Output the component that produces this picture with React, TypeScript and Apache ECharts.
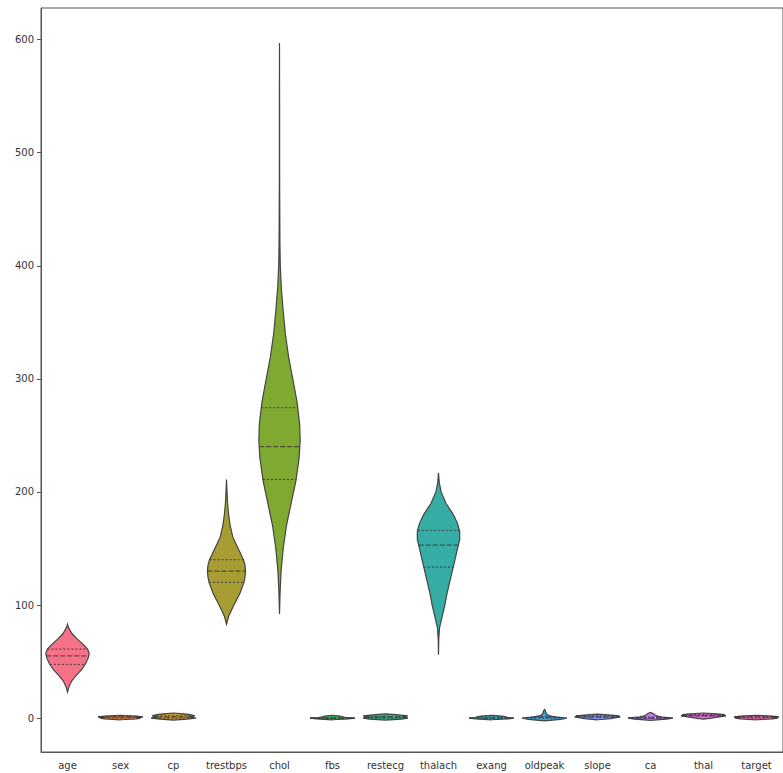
import React, { useEffect, useRef } from "react";
import * as echarts from "echarts";

const categories = ["age", "sex", "cp", "trestbps", "chol", "fbs", "restecg", "thalach", "exang", "oldpeak", "slope", "ca", "thal", "target"];
const colors = ["#f77189", "#e5803a", "#c39633", "#a89d32", "#7fa931", "#34b05a", "#34af87", "#36ada4", "#38aabd", "#3aa5da", "#8396f4", "#c37cf4", "#ee65e4", "#f66bb5"];

// violin density profiles: y values and half-widths (fraction of category band)
const profileY: number[][] = [
  [23, 28, 33, 38, 43, 48, 53, 57, 61, 65, 70, 75, 80, 83],
  [-1.5, -0.8, 0, 0.5, 1, 1.8, 2.5],
  [-1.8, -1, 0, 1, 2, 3, 3.8, 4.5],
  [83, 90, 100, 110, 120, 125, 130, 135, 140, 150, 160, 170, 180, 190, 200, 211],
  [92, 110, 130, 150, 170, 190, 210, 230, 245, 260, 280, 300, 320, 340, 360, 380, 400, 420, 440, 470, 500, 540, 597],
  [-1.5, -0.8, 0, 0.5, 1, 1.8, 2.5],
  [-1.8, -1, 0, 1, 2, 3, 3.8],
  [56, 70, 80, 90, 100, 110, 120, 130, 140, 150, 158, 165, 172, 180, 190, 200, 208, 217],
  [-1.5, -0.8, 0, 0.5, 1, 1.8, 2.5],
  [-2.5, -1.2, 0, 1, 2, 3, 4, 5, 6.2, 7.5],
  [-1.5, -0.5, 0, 1, 2, 2.8, 3.5],
  [-2, -1, 0, 1, 2, 3, 4, 5],
  [-1, 0, 1, 2, 2.5, 3, 3.8, 4.5],
  [-1.5, -0.8, 0, 0.5, 1, 1.8, 2.5],
];
const profileW: number[][] = [
  [0, 0.03, 0.08, 0.17, 0.27, 0.34, 0.39, 0.41, 0.38, 0.3, 0.18, 0.08, 0.02, 0],
  [0, 0.3, 0.38, 0.3, 0.42, 0.3, 0],
  [0, 0.25, 0.42, 0.3, 0.4, 0.32, 0.2, 0],
  [0, 0.04, 0.14, 0.25, 0.33, 0.35, 0.36, 0.35, 0.32, 0.22, 0.12, 0.07, 0.04, 0.02, 0.01, 0],
  [0, 0.01, 0.03, 0.07, 0.13, 0.22, 0.31, 0.37, 0.39, 0.38, 0.33, 0.25, 0.17, 0.11, 0.07, 0.035, 0.015, 0.008, 0.006, 0.003, 0.002, 0.002, 0],
  [0, 0.3, 0.42, 0.25, 0.2, 0.15, 0],
  [0, 0.3, 0.42, 0.35, 0.42, 0.2, 0],
  [0, 0.005, 0.02, 0.07, 0.12, 0.16, 0.21, 0.26, 0.31, 0.36, 0.4, 0.4, 0.36, 0.28, 0.14, 0.05, 0.015, 0],
  [0, 0.3, 0.42, 0.3, 0.28, 0.2, 0],
  [0, 0.3, 0.42, 0.2, 0.1, 0.05, 0.04, 0.02, 0.02, 0],
  [0, 0.25, 0.3, 0.42, 0.4, 0.2, 0],
  [0, 0.3, 0.42, 0.2, 0.12, 0.08, 0.05, 0],
  [0, 0.15, 0.3, 0.42, 0.35, 0.4, 0.25, 0],
  [0, 0.3, 0.4, 0.3, 0.42, 0.3, 0],
];
// quartiles [Q1, median, Q3]
const quartiles: number[][] = [
  [47.5, 55, 61], [0, 1, 1], [0, 1, 2], [120, 130, 140], [211, 240, 274.5],
  [0, 0, 0], [0, 1, 1], [133.5, 153, 166], [0, 0, 1], [0, 0.8, 1.6],
  [1, 1, 2], [0, 0, 1], [2, 2, 3], [0, 1, 1],
];
const yTicks = [0, 100, 200, 300, 400, 500, 600];

function interpW(ys: number[], ws: number[], y: number): number {
  if (y <= ys[0] || y >= ys[ys.length - 1]) return 0;
  for (let i = 0; i < ys.length - 1; i++) {
    if (y >= ys[i] && y <= ys[i + 1]) {
      const t = (y - ys[i]) / (ys[i + 1] - ys[i]);
      return ws[i] + t * (ws[i + 1] - ws[i]);
    }
  }
  return 0;
}

export default function App() {
  const ref = useRef<HTMLDivElement>(null);
  useEffect(() => {
    if (!ref.current) return;
    const chart = echarts.init(ref.current, undefined, { renderer: "svg" });
    const font = "'DejaVu Sans', sans-serif";
    chart.setOption({
      animation: false,
      backgroundColor: "#ffffff",
      grid: {
        left: 41, top: 8, width: 753, height: 744,
        show: true, borderColor: "#555", borderWidth: 1, backgroundColor: "transparent",
      },
      xAxis: {
        type: "category",
        data: categories,
        boundaryGap: true,
        axisLine: { onZero: false, lineStyle: { color: "#555", width: 1 } },
        axisTick: { alignWithLabel: true, length: 4, lineStyle: { color: "#555" } },
        axisLabel: { color: "#333", fontSize: 10, fontFamily: font, margin: 8, interval: 0 },
        splitLine: { show: false },
      },
      yAxis: {
        type: "value",
        min: -30,
        max: 628,
        axisLine: { show: true, lineStyle: { color: "#555", width: 1 } },
        axisTick: { show: true, length: 4, customValues: yTicks, lineStyle: { color: "#555" } },
        axisLabel: { color: "#333", fontSize: 10, fontFamily: font, margin: 7, customValues: yTicks },
        splitLine: { show: false },
      },
      series: [
        {
          type: "custom",
          data: categories.map((_, i) => [i]),
          clip: false,
          renderItem: (params: any, api: any) => {
            const i = params.dataIndex;
            const ys = profileY[i];
            const ws = profileW[i];
            const band = api.size([1, 0])[0];
            const right: number[][] = [];
            const left: number[][] = [];
            for (let k = 0; k < ys.length; k++) {
              const c = api.coord([i, ys[k]]);
              const hw = ws[k] * band;
              right.push([c[0] + hw, c[1]]);
              left.push([c[0] - hw, c[1]]);
            }
            const points = right.concat(left.reverse());
            const children: any[] = [
              {
                type: "polygon",
                shape: { points },
                style: { fill: colors[i], stroke: "#444", lineWidth: 1.2 },
              },
            ];
            quartiles[i].forEach((q, qi) => {
              const c = api.coord([i, q]);
              const hw = interpW(ys, ws, q) * band;
              if (hw <= 0) return;
              children.push({
                type: "line",
                shape: { x1: c[0] - hw, y1: c[1], x2: c[0] + hw, y2: c[1] },
                style: { stroke: "#3a3a3a", lineWidth: 1, lineDash: qi === 1 ? [5, 2] : [2, 2] },
              });
            });
            return { type: "group", children };
          },
        },
      ],
    });
    return () => chart.dispose();
  }, []);
  return (
    <div
      ref={ref}
      style={{ position: "fixed", left: 0, top: 0, width: 783, height: 773 }}
    />
  );
}
